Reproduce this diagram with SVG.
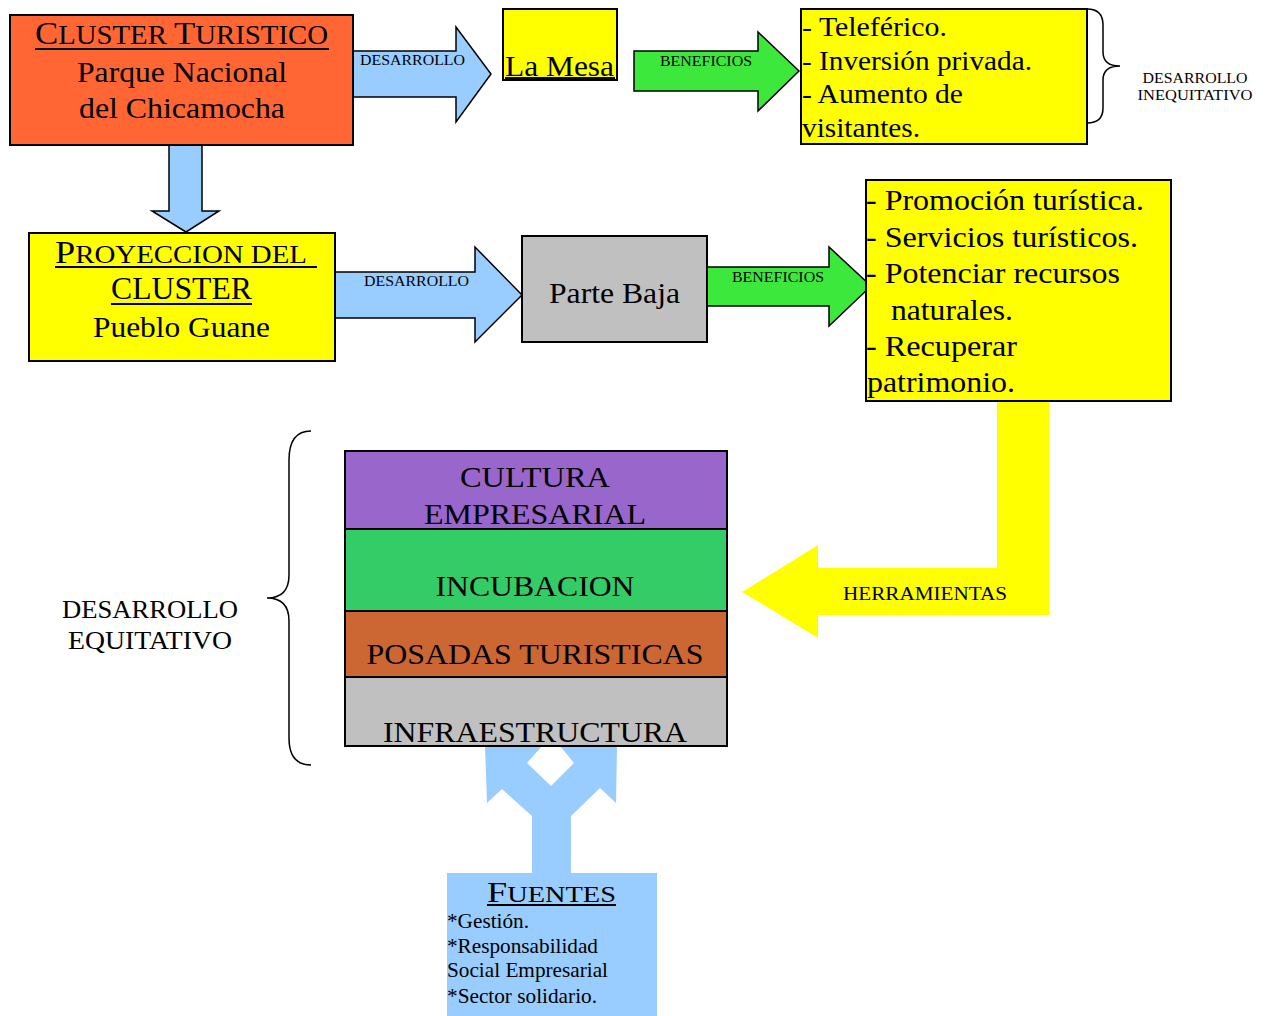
<svg xmlns="http://www.w3.org/2000/svg" width="1271" height="1016" viewBox="0 0 1271 1016">
<style>
text{font-family:"Liberation Serif","Times New Roman",serif;fill:#000}
.box{stroke:#000;stroke-width:2}
.arrB{fill:#99CCFF;stroke:#000;stroke-width:1.5}
.arrG{fill:#3DE83D;stroke:#000;stroke-width:1.5}
.lbl{font-size:15px}
.big{font-size:30px}
.mid{font-size:28px}
.ul{stroke:#000;stroke-width:2}
.brace{fill:none;stroke:#000;stroke-width:1.5}
</style>
<rect width="1271" height="1016" fill="#fff"/>
<g id="connectors">
<path class="arrB" d="M353,51 H456 V27 L491,74 L456,122 V97 H353 Z"/>
<path class="arrB" d="M169,145 V211 H152 L186,232 L219,211 H202 V145 Z"/>
<path class="arrB" d="M335,272 H475 V247 L522,295 L475,342 V318 H335 Z"/>
<path class="arrG" d="M634,51 H758 V32 L799,71 L758,111 V91 H634 Z"/>
<path class="arrG" d="M707,267 H829 V247 L871,286 L829,326 V306 H707 Z"/>
<path d="M997,401 H1049 V615 H818 V638 L742,592 L818,545 V568 H997 Z" fill="#FFFF00"/>
<path d="M532,873 V816 L502,789 L487,803 L485,746 H542 L527,763 L551,786 L574,763 L560,746 H617 L616,803 L600,788 L571,816 V873 Z" fill="#99CCFF"/>
<text class="lbl" x="360" y="65" textLength="105" lengthAdjust="spacingAndGlyphs">DESARROLLO</text>
<text class="lbl" x="364" y="286" textLength="105" lengthAdjust="spacingAndGlyphs">DESARROLLO</text>
<text class="lbl" x="660" y="66" textLength="92" lengthAdjust="spacingAndGlyphs">BENEFICIOS</text>
<text class="lbl" x="732" y="282" textLength="92" lengthAdjust="spacingAndGlyphs">BENEFICIOS</text>
<text x="843" y="600" font-size="18" textLength="164" lengthAdjust="spacingAndGlyphs">HERRAMIENTAS</text>
</g>
<g id="cluster">
<rect class="box" x="10" y="15" width="343" height="130" fill="#FF6633"/>
<text y="44" textLength="293" lengthAdjust="spacingAndGlyphs" x="35"><tspan font-size="32">C</tspan><tspan font-size="26.5">LUSTER </tspan><tspan font-size="32">T</tspan><tspan font-size="26.5">URISTICO</tspan></text>
<line class="ul" x1="35" y1="49" x2="329" y2="49"/>
<text class="big" x="77" y="82" textLength="210" lengthAdjust="spacingAndGlyphs">Parque Nacional</text>
<text class="big" x="79" y="118" textLength="206" lengthAdjust="spacingAndGlyphs">del Chicamocha</text>
</g>
<g id="lamesa">
<rect class="box" x="503" y="9" width="114" height="71" fill="#FFFF00"/>
<text class="big" x="505" y="76" textLength="109" lengthAdjust="spacingAndGlyphs">La Mesa</text>
<line class="ul" x1="505" y1="78" x2="615" y2="78" stroke-width="1.5"/>
</g>
<g id="beneficios1">
<rect class="box" x="801" y="9" width="286" height="135" fill="#FFFF00"/>
<text class="mid" x="802" y="36" textLength="145" lengthAdjust="spacingAndGlyphs">- Teleférico.</text>
<text class="mid" x="802" y="70" textLength="230" lengthAdjust="spacingAndGlyphs">- Inversión privada.</text>
<text class="mid" x="802" y="103" textLength="161" lengthAdjust="spacingAndGlyphs">- Aumento de</text>
<text class="mid" x="802" y="137" textLength="118" lengthAdjust="spacingAndGlyphs">visitantes.</text>
</g>
<g id="inequitativo">
<path class="brace" d="M1087,9 Q1103,9 1103,25 V52 Q1103,66 1120,66 Q1103,66 1103,80 V108 Q1103,123 1087,123"/>
<text x="1195" y="83" font-size="14" text-anchor="middle" textLength="105" lengthAdjust="spacingAndGlyphs">DESARROLLO</text>
<text x="1195" y="100" font-size="14" text-anchor="middle" textLength="115" lengthAdjust="spacingAndGlyphs">INEQUITATIVO</text>
</g>
<g id="proyeccion">
<rect class="box" x="29" y="233" width="306" height="128" fill="#FFFF00"/>
<text y="263" x="55" textLength="252" lengthAdjust="spacingAndGlyphs"><tspan font-size="32">P</tspan><tspan font-size="25.5">ROYECCION DEL</tspan></text>
<line class="ul" x1="55" y1="267" x2="317" y2="267"/>
<text y="299" x="111" font-size="32" textLength="141" lengthAdjust="spacingAndGlyphs">CLUSTER</text>
<line class="ul" x1="111" y1="304" x2="252" y2="304"/>
<text class="big" x="93" y="337" textLength="177" lengthAdjust="spacingAndGlyphs">Pueblo Guane</text>
</g>
<g id="partebaja">
<rect class="box" x="522" y="236" width="185" height="106" fill="#C0C0C0"/>
<text class="big" x="549" y="303" textLength="131" lengthAdjust="spacingAndGlyphs">Parte Baja</text>
</g>
<g id="beneficios2">
<rect class="box" x="866" y="180" width="305" height="221" fill="#FFFF00"/>
<text class="big" x="866" y="210" textLength="278" lengthAdjust="spacingAndGlyphs">- Promoción turística.</text>
<text class="big" x="866" y="247" textLength="272" lengthAdjust="spacingAndGlyphs">- Servicios turísticos.</text>
<text class="big" x="866" y="283" textLength="254" lengthAdjust="spacingAndGlyphs">- Potenciar recursos</text>
<text class="big" x="891" y="320" textLength="122" lengthAdjust="spacingAndGlyphs">naturales.</text>
<text class="big" x="866" y="356" textLength="151" lengthAdjust="spacingAndGlyphs">- Recuperar</text>
<text class="big" x="867" y="392" textLength="148" lengthAdjust="spacingAndGlyphs">patrimonio.</text>
</g>
<g id="stack">
<rect class="box" x="345" y="451" width="382" height="78" fill="#9966CC"/>
<rect class="box" x="345" y="529" width="382" height="82" fill="#33CC66"/>
<rect class="box" x="345" y="611" width="382" height="66" fill="#CC6633"/>
<rect class="box" x="345" y="677" width="382" height="69" fill="#C0C0C0"/>
<text class="big" x="535" y="487" text-anchor="middle" textLength="150" lengthAdjust="spacingAndGlyphs">CULTURA</text>
<text class="big" x="535" y="524" text-anchor="middle" textLength="222" lengthAdjust="spacingAndGlyphs">EMPRESARIAL</text>
<text class="big" x="535" y="596" text-anchor="middle" textLength="199" lengthAdjust="spacingAndGlyphs">INCUBACION</text>
<text class="big" x="535" y="664" text-anchor="middle" textLength="337" lengthAdjust="spacingAndGlyphs">POSADAS TURISTICAS</text>
<text class="big" x="535" y="742" text-anchor="middle" textLength="304" lengthAdjust="spacingAndGlyphs">INFRAESTRUCTURA</text>
</g>
<g id="equitativo">
<path class="brace" d="M311,431 Q289,431 289,460 V575 Q289,598 267,598 Q289,598 289,621 V738 Q289,765 311,765"/>
<text x="150" y="618" font-size="26" text-anchor="middle" textLength="176" lengthAdjust="spacingAndGlyphs">DESARROLLO</text>
<text x="150" y="649" font-size="26" text-anchor="middle" textLength="164" lengthAdjust="spacingAndGlyphs">EQUITATIVO</text>
</g>
<g id="fuentes">
<rect x="447" y="873" width="210" height="143" fill="#99CCFF"/>
<text y="902" x="487" textLength="129" lengthAdjust="spacingAndGlyphs"><tspan font-size="30">F</tspan><tspan font-size="23.5">UENTES</tspan></text>
<line class="ul" x1="487" y1="905" x2="616" y2="905"/>
<text x="447" y="928" font-size="21" textLength="82" lengthAdjust="spacingAndGlyphs">*Gestión.</text>
<text x="447" y="953" font-size="21" textLength="151" lengthAdjust="spacingAndGlyphs">*Responsabilidad</text>
<text x="447" y="977" font-size="21" textLength="161" lengthAdjust="spacingAndGlyphs">Social Empresarial</text>
<text x="447" y="1003" font-size="21" textLength="150" lengthAdjust="spacingAndGlyphs">*Sector solidario.</text>
</g>
</svg>
